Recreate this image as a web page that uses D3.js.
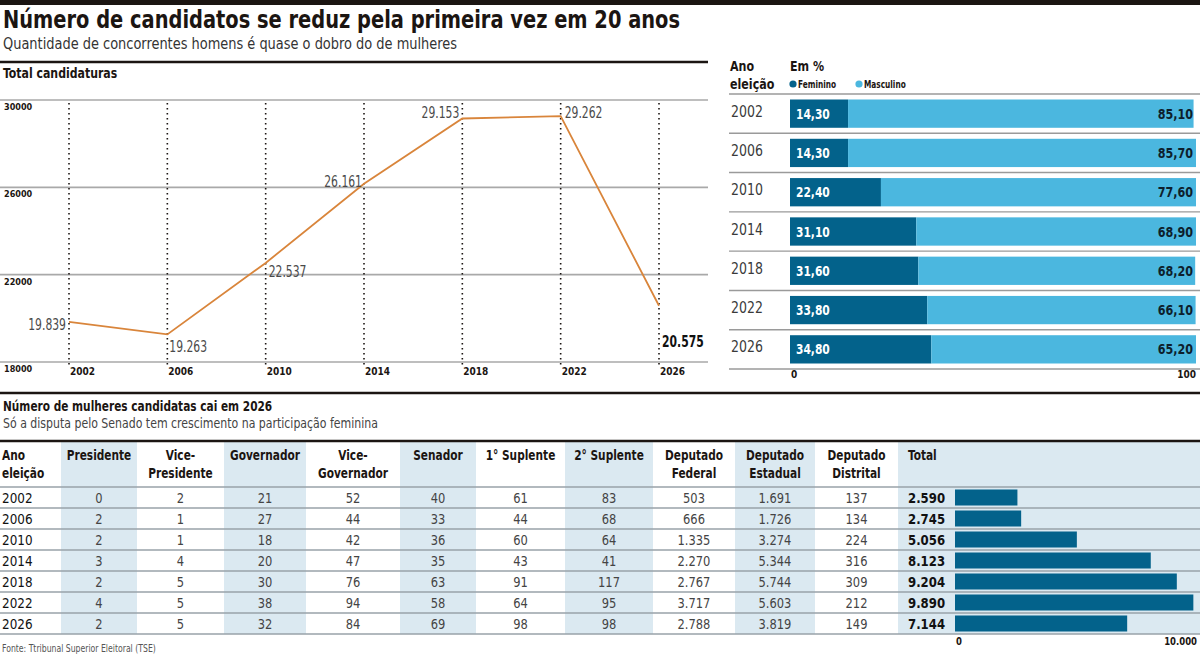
<!DOCTYPE html>
<html>
<head>
<meta charset="utf-8">
<script src="https://d3js.org/d3.v7.min.js"></script>
<style>
  body { margin: 0; background: #fff; }
  svg { display: block; }
  text { font-family: 'DejaVu Sans Condensed', 'Liberation Sans Narrow', sans-serif; }
</style>
</head>
<body>
<div id="chart"></div>
<script>
// ---- data ----
var years = ["2002", "2006", "2010", "2014", "2018", "2022", "2026"];
var totalCandidates = [19839, 19263, 22537, 26161, 29153, 29262, 20575];
var yTicks = [18000, 22000, 26000, 30000];

var pctFeminino = [14.30, 14.30, 22.40, 31.10, 31.60, 33.80, 34.80];
var pctMasculino = [85.10, 85.70, 77.60, 68.90, 68.20, 66.10, 65.20];

var tableHeaders = ["Ano|eleição", "Presidente", "Vice-|Presidente", "Governador", "Vice-|Governador",
  "Senador", "1° Suplente", "2° Suplente", "Deputado|Federal", "Deputado|Estadual", "Deputado|Distrital", "Total"];
var presidente      = [0, 2, 2, 3, 2, 4, 2];
var vicePresidente  = [2, 1, 1, 4, 5, 5, 5];
var governador      = [21, 27, 18, 20, 30, 38, 32];
var viceGovernador  = [52, 44, 42, 47, 76, 94, 84];
var senador         = [40, 33, 36, 35, 63, 58, 69];
var suplente1       = [61, 44, 60, 43, 91, 64, 98];
var suplente2       = [83, 68, 64, 41, 117, 95, 98];
var depFederal      = [503, 666, 1335, 2270, 2767, 3717, 2788];
var depEstadual     = [1691, 1726, 3274, 5344, 5744, 5603, 3819];
var depDistrital    = [137, 134, 224, 316, 309, 212, 149];
var totalMulheres   = [2590, 2745, 5056, 8123, 9204, 9890, 7144];

// ---- layout ----
var W = 1200, H = 656;
var ink = "#1b1512", darkBlue = "#03628b", lightBlue = "#4bb7df", shade = "#dbe9f1", orange = "#d9853b";

var br = d3.formatLocale({decimal: ",", thousands: ".", grouping: [3], currency: ["R$", ""]});
var fmtInt = br.format(",d");
var fmtPct = br.format(".2f");

var svg = d3.select("#chart").append("svg").attr("width", W).attr("height", H);

// top bar + titles
svg.append("rect").attr("x", 0).attr("y", 0).attr("width", W).attr("height", 5).attr("fill", ink);
svg.append("text").attr("x", 3).attr("y", 28).attr("font-size", 24).attr("font-weight", "bold")
   .attr("fill", ink).attr("data-w", 677).text("Número de candidatos se reduz pela primeira vez em 20 anos");
svg.append("text").attr("x", 3).attr("y", 48.5).attr("font-size", 16).attr("fill", "#333")
   .attr("data-w", 454).text("Quantidade de concorrentes homens é quase o dobro do de mulheres");

// ---- left: line chart ----
svg.append("line").attr("x1", 0).attr("x2", 708).attr("y1", 62).attr("y2", 62)
   .attr("stroke", ink).attr("stroke-width", 2.5);
svg.append("text").attr("x", 3).attr("y", 78).attr("font-size", 13.5).attr("font-weight", "bold")
   .attr("fill", ink).attr("data-k", 0.9).text("Total candidaturas");

var x = d3.scalePoint().domain(years).range([69, 659]);
var y = d3.scaleLinear().domain([18000, 30000]).range([362, 100]);

var grid = svg.append("g");
grid.selectAll("line").data(yTicks).join("line")
   .attr("x1", 0).attr("x2", 708)
   .attr("y1", function(d) { return y(d); }).attr("y2", function(d) { return y(d); })
   .attr("stroke", "#a9a9a9").attr("stroke-width", 1.6);
grid.selectAll("text").data(yTicks).join("text")
   .attr("x", 4).attr("y", function(d) { return y(d) + 10; })
   .attr("font-size", 9).attr("font-weight", "bold").attr("fill", ink).attr("data-k", 1)
   .text(function(d) { return d; });

// dotted year lines + year labels
svg.append("g").selectAll("line").data(years).join("line")
   .attr("x1", function(d) { return x(d); }).attr("x2", function(d) { return x(d); })
   .attr("y1", 103).attr("y2", 366)
   .attr("stroke", ink).attr("stroke-width", 1.6).attr("stroke-dasharray", "1.6,3.4");
svg.append("g").selectAll("text").data(years).join("text")
   .attr("x", function(d) { return x(d) + 1; }).attr("y", 375)
   .attr("font-size", 10).attr("font-weight", "bold").attr("fill", ink).attr("data-k", 1)
   .text(function(d) { return d; });

var lineData = years.map(function(yr, i) { return {year: yr, value: totalCandidates[i]}; });
svg.append("path").datum(lineData)
   .attr("fill", "none").attr("stroke", orange).attr("stroke-width", 1.8)
   .attr("d", d3.line().x(function(d) { return x(d.year); }).y(function(d) { return y(d.value); }));

// label placement for each point: [anchor, dx, dy]
var labelPlace = [["end", -3, 8], ["start", 2, 18], ["start", 3, 14], ["end", -2, 3],
                  ["end", -3, 0], ["start", 4, 2], ["start", 3, 41]];
svg.append("g").selectAll("text").data(lineData).join("text")
   .attr("x", function(d, i) { return x(d.year) + labelPlace[i][1]; })
   .attr("y", function(d, i) { return y(d.value) + labelPlace[i][2]; })
   .attr("text-anchor", function(d, i) { return labelPlace[i][0]; })
   .attr("font-size", 15)
   .attr("font-weight", function(d, i) { return i === 6 ? "bold" : "normal"; })
   .attr("fill", function(d, i) { return i === 6 ? "#111" : "#4a4a4a"; })
   .attr("data-k", 0.8)
   .text(function(d) { return fmtInt(d.value); });

// ---- right: stacked percentage bars ----
svg.append("text").attr("x", 730).attr("y", 71).attr("font-size", 14.5).attr("font-weight", "bold")
   .attr("fill", ink).attr("data-k", 0.85).text("Ano");
svg.append("text").attr("x", 730).attr("y", 89).attr("font-size", 14.5).attr("font-weight", "bold")
   .attr("fill", ink).attr("data-k", 0.85).text("eleição");
svg.append("text").attr("x", 790).attr("y", 71).attr("font-size", 14.5).attr("font-weight", "bold")
   .attr("fill", ink).attr("data-k", 0.85).text("Em %");
var legend = [["Feminino", darkBlue, 793], ["Masculino", lightBlue, 859]];
legend.forEach(function(l) {
  svg.append("circle").attr("cx", l[2]).attr("cy", 84).attr("r", 3.6).attr("fill", l[1]);
  svg.append("text").attr("x", l[2] + 5).attr("y", 87.5).attr("font-size", 10).attr("font-weight", "bold")
     .attr("fill", ink).attr("data-k", 0.82).text(l[0]);
});

var px = d3.scaleLinear().domain([0, 100]).range([790, 1196]);
var py = d3.scaleBand().domain(years).range([94, 369]).paddingInner(0.28).paddingOuter(0.14);
var rowStep = py.step();

svg.append("g").selectAll("line").data(d3.range(years.length + 1)).join("line")
   .attr("x1", 729).attr("x2", W)
   .attr("y1", function(i) { return 94 + i * rowStep; }).attr("y2", function(i) { return 94 + i * rowStep; })
   .attr("stroke", "#9a9a9a").attr("stroke-width", 1.4);

var pctData = years.map(function(yr, i) { return {year: yr, fem: pctFeminino[i], masc: pctMasculino[i]}; });
var prow = svg.append("g").selectAll("g").data(pctData).join("g");
prow.append("text").attr("x", 731).attr("y", function(d) { return py(d.year) + py.bandwidth() / 2 + 3; })
   .attr("font-size", 15).attr("fill", "#3a3a3a").attr("data-k", 0.93).text(function(d) { return d.year; });
prow.append("rect").attr("x", px(0)).attr("y", function(d) { return py(d.year); })
   .attr("width", function(d) { return px(d.fem) - px(0); }).attr("height", py.bandwidth())
   .attr("fill", darkBlue);
prow.append("rect").attr("x", function(d) { return px(d.fem); }).attr("y", function(d) { return py(d.year); })
   .attr("width", function(d) { return px(d.fem + d.masc) - px(d.fem); }).attr("height", py.bandwidth())
   .attr("fill", lightBlue);
prow.append("text").attr("x", px(0) + 6).attr("y", function(d) { return py(d.year) + py.bandwidth() / 2 + 5; })
   .attr("font-size", 13.5).attr("font-weight", "bold").attr("fill", "#fff").attr("data-k", 0.88)
   .text(function(d) { return fmtPct(d.fem); });
prow.append("text").attr("x", px(100) - 3).attr("y", function(d) { return py(d.year) + py.bandwidth() / 2 + 5; })
   .attr("text-anchor", "end").attr("font-size", 13.5).attr("font-weight", "bold").attr("fill", "#0d1f2d")
   .attr("data-k", 0.92).text(function(d) { return fmtPct(d.masc); });

svg.append("g").selectAll("text").data([0, 100]).join("text")
   .attr("x", function(d) { return d === 0 ? px(d) + 1 : px(d); })
   .attr("y", 378).attr("text-anchor", function(d) { return d === 0 ? "start" : "end"; })
   .attr("font-size", 10).attr("font-weight", "bold").attr("fill", ink).attr("data-k", 1)
   .text(function(d) { return d; });

// separator between sections
svg.append("line").attr("x1", 0).attr("x2", W).attr("y1", 393).attr("y2", 393)
   .attr("stroke", ink).attr("stroke-width", 2.5);

// ---- bottom: table ----
svg.append("text").attr("x", 3).attr("y", 411).attr("font-size", 14.5).attr("font-weight", "bold")
   .attr("fill", ink).attr("data-k", 0.81).text("Número de mulheres candidatas cai em 2026");
svg.append("text").attr("x", 3).attr("y", 428).attr("font-size", 14.5).attr("fill", "#444")
   .attr("data-k", 0.84).text("Só a disputa pelo Senado tem crescimento na participação feminina");

var colEdges = [0, 61, 137, 224, 306, 400, 476, 565, 653, 735, 815, 898, W];
var tableTop = 442, headerBottom = 487, tableBottom = 634;

var ty = d3.scaleBand().domain(years).range([headerBottom, tableBottom]);
var tx = d3.scaleLinear().domain([0, 10000]).range([955, 1196]);

// shaded columns
svg.append("g").selectAll("rect").data([1, 3, 5, 7, 9, 11]).join("rect")
   .attr("x", function(c) { return colEdges[c]; }).attr("y", tableTop)
   .attr("width", function(c) { return colEdges[c + 1] - colEdges[c]; })
   .attr("height", tableBottom - tableTop).attr("fill", shade);

svg.append("line").attr("x1", 0).attr("x2", W).attr("y1", 441).attr("y2", 441)
   .attr("stroke", ink).attr("stroke-width", 2.5);

// headers, one text per line
tableHeaders.forEach(function(h, c) {
  var left = c === 0 || c === 11;
  var hx = c === 0 ? 2 : (c === 11 ? 908 : (colEdges[c] + colEdges[c + 1]) / 2);
  h.split("|").forEach(function(l, k) {
    svg.append("text").attr("x", hx).attr("y", 460 + k * 18)
       .attr("text-anchor", left ? "start" : "middle")
       .attr("font-size", 14).attr("font-weight", "bold").attr("fill", ink)
       .attr("data-k", 0.84).text(l);
  });
});

// row separators
svg.append("g").selectAll("line").data(d3.range(years.length + 1)).join("line")
   .attr("x1", 0).attr("x2", W)
   .attr("y1", function(i) { return headerBottom + i * ty.step(); })
   .attr("y2", function(i) { return headerBottom + i * ty.step(); })
   .attr("stroke", "#98a2a8").attr("stroke-width", 1.5);

var columns = [presidente, vicePresidente, governador, viceGovernador, senador,
               suplente1, suplente2, depFederal, depEstadual, depDistrital];
var rows = years.map(function(yr, i) {
  return {year: yr, cells: columns.map(function(col) { return col[i]; }), total: totalMulheres[i]};
});
var trow = svg.append("g").selectAll("g").data(rows).join("g")
   .attr("transform", function(d) { return "translate(0," + (ty(d.year) + ty.bandwidth() / 2 + 5) + ")"; });
trow.append("text").attr("x", 2).attr("font-size", 14.5).attr("fill", "#111").attr("data-k", 0.92)
   .text(function(d) { return d.year; });
trow.selectAll("text.cell").data(function(d) { return d.cells; }).join("text")
   .attr("class", "cell")
   .attr("x", function(v, j) { return (colEdges[j + 1] + colEdges[j + 2]) / 2; })
   .attr("text-anchor", "middle").attr("font-size", 14.5).attr("fill", "#444").attr("data-k", 0.88)
   .text(function(v) { return fmtInt(v); });
trow.append("text").attr("x", 908).attr("font-size", 14).attr("font-weight", "bold").attr("fill", "#111")
   .attr("data-k", 0.93).text(function(d) { return fmtInt(d.total); });
trow.append("rect").attr("x", tx(0)).attr("y", -5 - 8)
   .attr("width", function(d) { return tx(d.total) - tx(0); }).attr("height", 16)
   .attr("fill", darkBlue);

svg.append("g").selectAll("text").data([0, 10000]).join("text")
   .attr("x", function(d) { return tx(d) + 1; })
   .attr("y", 645).attr("text-anchor", function(d) { return d === 0 ? "start" : "end"; })
   .attr("font-size", 10.5).attr("font-weight", "bold").attr("fill", ink).attr("data-k", 0.9)
   .text(function(d) { return fmtInt(d); });

svg.append("text").attr("x", 2).attr("y", 652).attr("font-size", 10).attr("fill", "#555")
   .attr("data-k", 0.86).text("Fonte: Ttribunal Superior Eleitoral (TSE)");

// the reference uses a condensed face: narrow each text horizontally
// (data-w = target width in px, data-k = factor of natural width)
svg.selectAll("text").each(function() {
  var len = this.getComputedTextLength();
  var target;
  if (this.hasAttribute("data-w")) target = +this.getAttribute("data-w");
  else {
    var k = this.hasAttribute("data-k") ? +this.getAttribute("data-k") : 0.86;
    if (k === 1) return;
    target = len * k;
  }
  this.setAttribute("textLength", target);
  this.setAttribute("lengthAdjust", "spacingAndGlyphs");
});
</script>
</body>
</html>
